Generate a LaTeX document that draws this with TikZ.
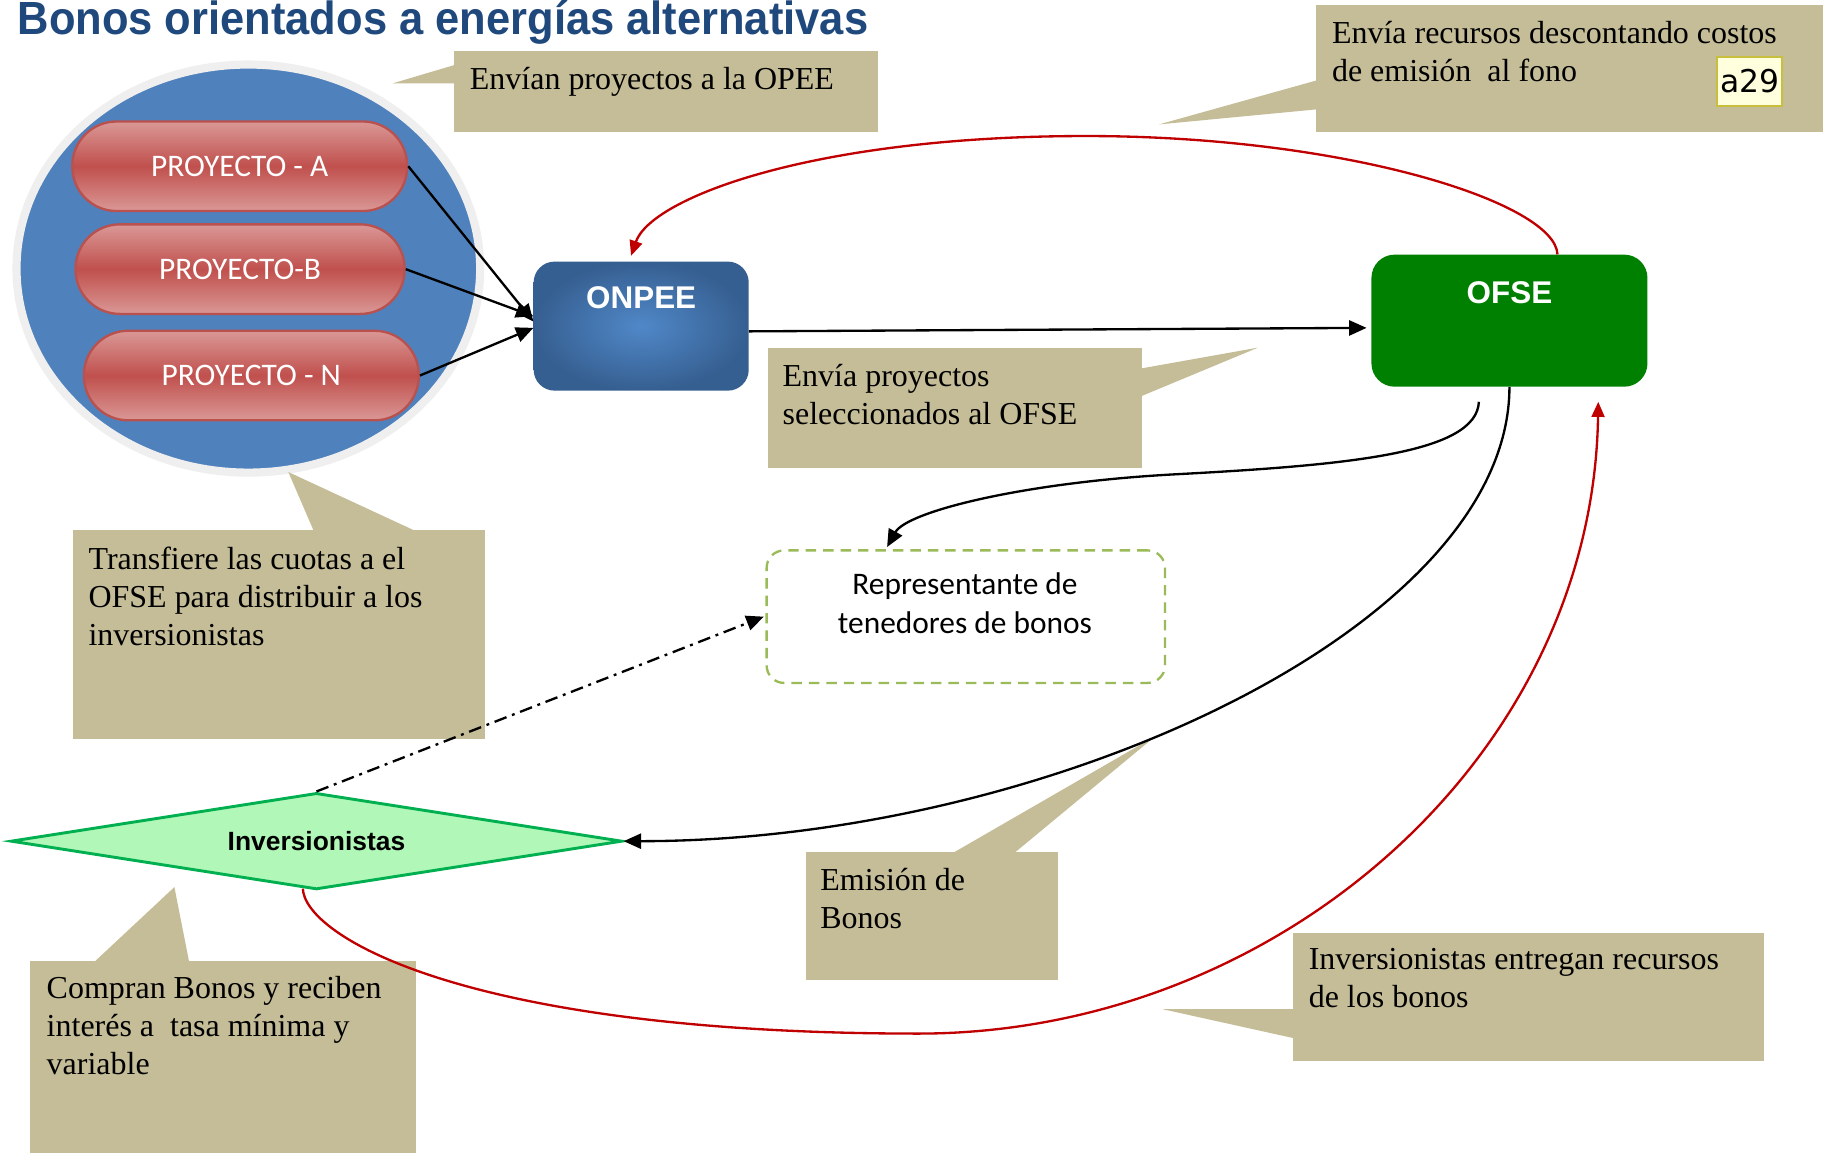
\documentclass[tikz,border=0pt]{standalone}
\usepackage{fontspec}
\setmainfont{Liberation Serif}
\newfontfamily\arialf{Liberation Sans}
\newfontfamily\calibf{Carlito}
\newfontfamily\dejavuf{DejaVu Sans}
\usepackage{graphicx}
\usetikzlibrary{arrows.meta,shapes.geometric,calc}
\definecolor{tanc}{HTML}{C4BD97}
\definecolor{titleblue}{HTML}{1F497D}
\definecolor{ellblue}{HTML}{4F81BD}
\definecolor{ellrim}{HTML}{EFEFEF}
\definecolor{pillred}{HTML}{C0504D}
\definecolor{pillpink}{HTML}{DA9896}
\definecolor{pillline}{HTML}{B9514E}
\definecolor{onpdark}{HTML}{365F91}
\definecolor{onplight}{HTML}{5088C8}
\definecolor{ofsegreen}{HTML}{008000}
\definecolor{redline}{HTML}{C00000}
\definecolor{repgreen}{HTML}{9BBB59}
\definecolor{diafill}{HTML}{B0F7B8}
\definecolor{diadraw}{HTML}{00B050}
\definecolor{a29fill}{HTML}{FFFFDD}
\definecolor{a29draw}{HTML}{C8C03C}
\begin{document}
\begin{tikzpicture}[x=1pt,y=-1pt,
  pill/.style={rectangle, rounded corners=38pt, minimum width=#1, minimum height=77pt,
    draw=pillline, line width=2pt, top color=pillpink, bottom color=pillpink, middle color=pillred,
    text=white, font=\calibf\fontsize{27}{32}\selectfont, inner sep=0pt},
  callbox/.style={fill=tanc, inner sep=0pt, anchor=north west},
  calltext/.style={anchor=north west, inner sep=0pt, align=left, font=\fontsize{27.5}{32.8}\selectfont},
  blk/.style={draw=black, line width=2pt, -{Triangle[length=15pt,width=13pt]}},
  redarrow/.style={draw=redline, line width=2pt, -{Triangle[length=13pt,width=11pt]}},
  dashdotline/.style={draw=black, line width=2pt, dash pattern=on 11pt off 5pt on 2.5pt off 5pt, -{Triangle[length=15pt,width=13pt]}},
  bigbox/.style={rectangle, text=white, inner sep=0pt, font=\arialf\bfseries\fontsize{27}{30}\selectfont}
]
\fill[white] (0,0) rectangle (1568,991);
\useasboundingbox (0,0) rectangle (1568,991);

% title
\node[anchor=base west, inner sep=0pt, text=titleblue, font=\arialf\bfseries\fontsize{40}{44}\selectfont] (title) at (15,30)
  {\scalebox{0.935}[1]{Bonos orientados a energías alternativas}};

% group ellipse and projects
\node[ellipse, minimum width=398.8pt, minimum height=351pt, fill=ellblue, draw=ellrim, line width=7pt] (grp) at (213.6,231) {};
\node[pill=288pt] (pa) at (206.2,143) {PROYECTO - A};
\node[pill=283pt] (pb) at (206.5,231.5) {PROYECTO-B};
\node[pill=288pt] (pn) at (216.2,323) {PROYECTO - N};

% callout boxes
\node[callbox, minimum width=365pt, minimum height=69pt] (c1) at (390,44) {};
\fill[tanc] (391,55.9) -- (337.7,71.7) -- (391,71.7) -- cycle;
\node[callbox, minimum width=437pt, minimum height=109pt] (c2) at (1132,4) {};
\fill[tanc] (1133,69) -- (997,107) -- (1133,94) -- cycle;
\node[callbox, minimum width=322pt, minimum height=103pt] (c3) at (660,299) {};
\fill[tanc] (981,317) -- (1082,299) -- (981,341) -- cycle;
\node[callbox, minimum width=354.5pt, minimum height=179pt] (c4) at (62.5,456) {};
\fill[tanc] (270,457) -- (248,406) -- (358,457) -- cycle;
\node[callbox, minimum width=216.5pt, minimum height=109.5pt] (c5) at (693,733) {};
\fill[tanc] (819,734) -- (994,633) -- (872,734) -- cycle;
\node[callbox, minimum width=405pt, minimum height=110pt] (c6) at (1112,802) {};
\fill[tanc] (1113,868) -- (1000,868) -- (1113,893) -- cycle;
\node[callbox, minimum width=332pt, minimum height=170pt] (c7) at (26,826) {};
\fill[tanc] (81.5,827) -- (150,763) -- (162.6,827) -- cycle;

% a29 tag
\node[draw=a29draw, fill=a29fill, line width=1.5pt, minimum width=56pt, minimum height=42.5pt, inner sep=0pt,
  font=\dejavuf\fontsize{27}{30}\selectfont] (a29) at (1505,70) {a29};

% main boxes
\node[bigbox, rounded corners=18pt, minimum width=185pt, minimum height=111pt, inner color=onplight, outer color=onpdark,
  text height=20pt, text depth=51pt] (onpee) at (551.5,280.5) {ONPEE};
\node[bigbox, rounded corners=20pt, minimum width=237.4pt, minimum height=113.6pt, fill=ofsegreen,
  text height=20pt, text depth=49.6pt] (ofse) at (1298.3,275.8) {OFSE};

% representante
\node[draw=repgreen, line width=2pt, dash pattern=on 9pt off 6pt, rounded corners=15pt,
  minimum width=342.6pt, minimum height=114pt, inner sep=0pt] (rep) at (830.7,530.4) {};
\node[anchor=north, inner sep=0pt, align=center, font=\calibf\fontsize{27}{33.5}\selectfont] (reptext) at (830,487.5)
  {\strut Representante de\\tenedores de bonos};

% inversionistas
\node[diamond, minimum width=526pt, minimum height=83pt, aspect=6.3, fill=diafill, draw=diadraw, line width=2.5pt,
  inner sep=0pt, font=\arialf\bfseries\fontsize{22.7}{26}\selectfont] (dia) at (272.2,723.5) {Inversionistas};

% connectors
\draw[blk] (pa.east) -- ($(onpee.west)+(0,-3.9)$);
\draw[blk] (pb.east) -- ($(onpee.west)+(0,-8.5)$);
\draw[blk] (pn.east) -- ($(onpee.west)+(0,1.5)$);
\draw[blk] ($(onpee.east)+(0,4.5)$) -- ($(ofse.west)+(-4,6.2)$);
\draw[redarrow] ($(ofse.north)+(41.3,0)$) .. controls (1338,175) and (1160,117) .. (934,117)
  .. controls (700,117) and (560,170) .. ($(onpee.north)+(-8.7,-4.8)$);
\draw[redarrow] (dia.-106) .. controls (262,805) and (400,889) .. (790,889)
  .. controls (1100,889) and (1370,650) .. ($(ofse.south)+(76.4,12.8)$);
\draw[blk] ($(ofse.south)+(-26.3,12.8)$) .. controls (1270,390) and (1160,400) .. (1010,408)
  .. controls (880,415) and (780,440) .. ($(rep.north)+(-67.7,-1.9)$);
\draw[blk] (ofse.south) .. controls (1298,540) and (900,723.5) .. (dia.east);
\draw[dashdotline] (dia.north) -- ($(rep.west)+(-1.5,0)$);

% callout texts
\node[calltext] (t1) at (404,53.8) {\strut Envían proyectos a la OPEE};
\node[calltext] (t2) at (1145.5,14.3) {\strut Envía recursos descontando costos\\de emisión\ \ al fono};
\node[calltext] (t3) at (673,309.5) {\strut Envía proyectos\\seleccionados al OFSE};
\node[calltext] (t4) at (76,466.7) {\strut Transfiere las cuotas a el\\OFSE para distribuir a los\\inversionistas};
\node[calltext] (t5) at (705.4,742.6) {\strut Emisión de\\Bonos};
\node[calltext] (t6) at (1125.5,811) {\strut Inversionistas entregan recursos\\de los bonos};
\node[calltext] (t7) at (40,835.6) {\strut Compran Bonos y reciben\\interés a\ \ tasa mínima y\\variable};
\end{tikzpicture}
\end{document}
